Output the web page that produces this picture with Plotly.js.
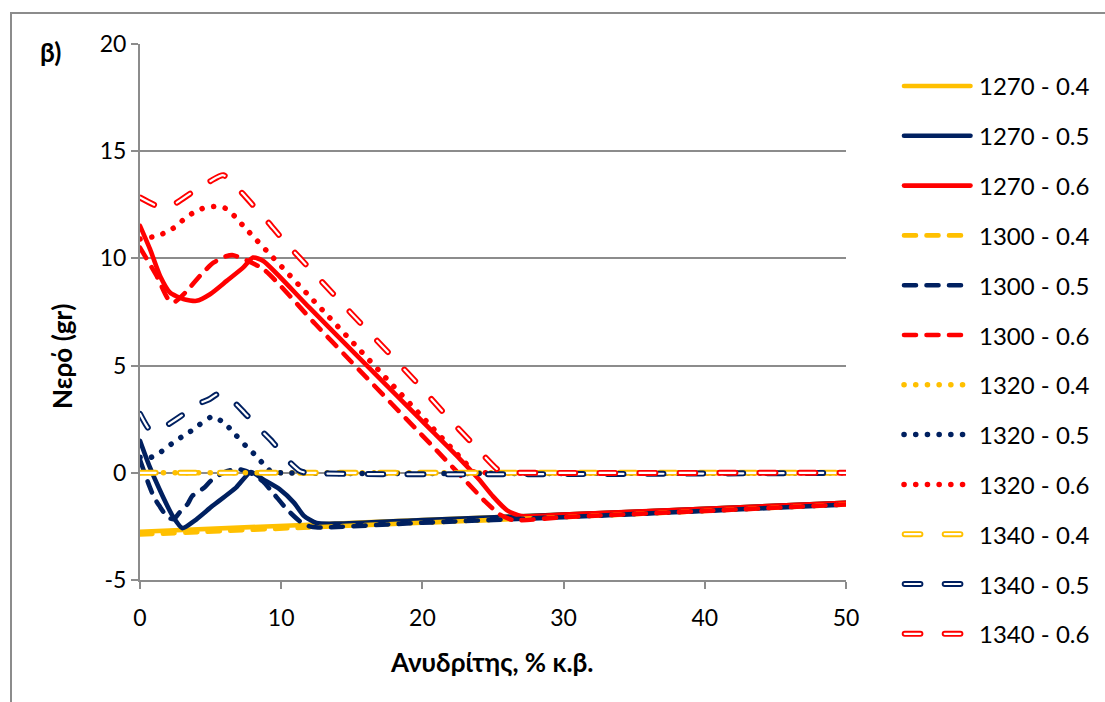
<!DOCTYPE html>
<html>
<head>
<meta charset="utf-8">
<script src="https://cdn.plot.ly/plotly-3.0.1.min.js"></script>
<style>
  html, body { margin: 0; padding: 0; background: #fff; }
  .js-line { stroke-linecap: round !important; stroke-linejoin: round !important; }
  .shapelayer path { stroke-linecap: round !important; }
</style>
</head>
<body>
<div id="chart" style="width:1105px;height:702px;"></div>
<script>
// ---------------- DATA ----------------
const seriesNames = ["1270 - 0.4", "1270 - 0.5", "1270 - 0.6",
                     "1300 - 0.4", "1300 - 0.5", "1300 - 0.6",
                     "1320 - 0.4", "1320 - 0.5", "1320 - 0.6",
                     "1340 - 0.4", "1340 - 0.5", "1340 - 0.6"];

const x1270_04 = [0, 12, 20, 30, 40, 50];
const y1270_04 = [-2.75, -2.42, -2.2, -1.95, -1.68, -1.4];

const x1270_05 = [0, 0.66, 1.6, 2.3, 3.0, 3.85, 5.14, 6.8, 7.86, 8.7, 9.9, 10.9, 11.6, 12.5, 14, 20, 30, 40, 50];
const y1270_05 = [1.49, 0.32, -1.08, -2.0, -2.58, -2.24, -1.54, -0.69, 0.04, -0.3, -0.77, -1.39, -2.0, -2.34, -2.37, -2.2, -1.95, -1.68, -1.4];

const x1270_06 = [0, 0.71, 1.42, 2.12, 3.07, 4.0, 4.96, 6.14, 7.32, 8.0, 8.73, 12, 16, 20, 22.66, 24, 25, 26, 27, 30, 40, 50];
const y1270_06 = [11.52, 10.43, 9.18, 8.41, 8.1, 8.02, 8.33, 8.95, 9.58, 10.04, 9.88, 7.7, 5.05, 2.4, 0.64, -0.3, -1.1, -1.75, -2.02, -1.95, -1.68, -1.4];

const x1300_04 = [0, 12.6, 20, 30, 40, 50];
const y1300_04 = [-2.88, -2.53, -2.33, -2.07, -1.78, -1.48];

const x1300_05 = [0, 0.66, 1.0, 1.37, 1.96, 2.4, 2.8, 3.37, 3.7, 4.56, 5.0, 5.7, 6.2, 7.0, 7.8, 8.7, 9.5, 10.4, 11.3, 12.0, 12.6, 20, 30, 40, 50];
const y1300_05 = [0.6, -0.61, -1.15, -1.54, -2.08, -2.16, -1.85, -1.46, -1.08, -0.69, -0.38, -0.07, 0.09, 0.17, 0.0, -0.4, -1.0, -1.7, -2.25, -2.5, -2.55, -2.33, -2.07, -1.78, -1.48];

const x1300_06 = [0, 1.18, 2.0, 2.4, 3.2, 4.4, 5.2, 6.1, 6.6, 8.73, 12.4, 14.64, 21.0, 24.1, 24.4, 25.5, 26.4, 30, 40, 50];
const y1300_06 = [10.5, 9.18, 8.1, 7.95, 8.4, 9.3, 9.8, 10.1, 10.15, 9.5, 6.95, 5.4, 1.05, -1.1, -1.31, -1.95, -2.2, -2.07, -1.78, -1.48];

const x1320_04 = [0, 50];
const y1320_04 = [0, 0];

const x1320_05 = [0, 0.78, 1.49, 2.2, 2.9, 3.57, 4.2, 4.96, 5.3, 5.74, 6.3, 6.8, 7.5, 8.1, 8.64, 9.3, 10, 50];
const y1320_05 = [0.72, 0.72, 0.98, 1.33, 1.65, 1.93, 2.24, 2.58, 2.62, 2.42, 2.11, 1.75, 1.25, 0.87, 0.48, 0.05, 0, 0];

const x1320_06 = [0, 0.87, 1.65, 2.36, 3.07, 3.7, 4.44, 5.3, 6.07, 6.73, 7.27, 12.98, 23.25, 23.7, 24.5, 50];
const y1320_06 = [10.9, 11.0, 11.16, 11.41, 11.8, 12.1, 12.33, 12.42, 12.33, 11.95, 11.55, 7.55, 0.32, 0.02, 0, 0];

const x1340_04 = [0, 50];
const y1340_04 = [0, 0];

const x1340_05 = [0, 0.66, 1.2, 1.84, 2.9, 4.08, 4.9, 5.6, 6.56, 7.38, 8.5, 9.4, 10.4, 11.3, 11.8, 50];
const y1340_05 = [2.75, 2.03, 1.95, 2.19, 2.65, 3.2, 3.43, 3.7, 3.35, 2.81, 2.03, 1.43, 0.63, 0.09, 0, 0];

const x1340_06 = [0, 1.18, 1.8, 2.6, 3.66, 4.96, 5.9, 7.2, 8.15, 9.1, 10.0, 14.9, 17.7, 19.7, 21.6, 23.6, 25.6, 26.3, 50];
const y1340_06 = [12.84, 12.45, 12.38, 12.6, 13.07, 13.6, 13.88, 13.07, 12.37, 11.67, 10.97, 7.48, 5.53, 4.13, 2.73, 1.33, 0.01, 0, 0];

const xTickVals = [0, 10, 20, 30, 40, 50];
const xTickText = ["0", "10", "20", "30", "40", "50"];
const yTickVals = [-5, 0, 5, 10, 15, 20];
const yTickText = ["-5", "0", "5", "10", "15", "20"];

// ---------------- STYLE ----------------
const YELLOW = "#FFC000", NAVY = "#002060", RED = "#FF0000";
const FONT = "Lato, 'Noto Sans', 'DejaVu Sans', sans-serif";
const GRID = "#8c8c8c";

const styles = {
  solid:  { width: 4.6, dash: "solid" },
  dashed: { width: 4.6, dash: "12px,10.5px" },
  dotted: { width: 5.5, dash: "0.1px,11.6px" },
  double: { width: 6,   dash: "15.7px,24.3px", inner: 2.2 }
};

const seriesData = [
  [x1270_04, y1270_04, YELLOW, "solid"],
  [x1270_05, y1270_05, NAVY, "solid"],
  [x1270_06, y1270_06, RED, "solid"],
  [x1300_04, y1300_04, YELLOW, "dashed"],
  [x1300_05, y1300_05, NAVY, "dashed"],
  [x1300_06, y1300_06, RED, "dashed"],
  [x1320_04, y1320_04, YELLOW, "dotted"],
  [x1320_05, y1320_05, NAVY, "dotted"],
  [x1320_06, y1320_06, RED, "dotted"],
  [x1340_04, y1340_04, YELLOW, "double"],
  [x1340_05, y1340_05, NAVY, "double"],
  [x1340_06, y1340_06, RED, "double"]
];

const traces = [];
seriesData.forEach((s, i) => {
  const st = styles[s[3]];
  traces.push({
    type: "scatter", mode: "lines", name: seriesNames[i],
    x: s[0], y: s[1],
    line: { color: s[2], width: st.width, dash: st.dash, shape: "spline", smoothing: 0.6 },
    hoverinfo: "skip", showlegend: false
  });
  if (s[3] === "double") {
    traces.push({
      type: "scatter", mode: "lines", name: seriesNames[i] + " inner",
      x: s[0], y: s[1],
      line: { color: "#ffffff", width: st.inner, dash: st.dash, shape: "spline", smoothing: 0.6 },
      hoverinfo: "skip", showlegend: false
    });
  }
});

// ---------------- LAYOUT ----------------
const W = 1105, H = 702;
const M = { l: 140, r: 259, t: 44, b: 122 };
const PW = W - M.l - M.r, PH = H - M.t - M.b;
const px = v => (v - M.l) / PW;
const py = v => (H - M.b - v) / PH;

const shapes = [];
const annotations = [];

// outer chart border
shapes.push({ type: "rect", xref: "paper", yref: "paper",
  x0: px(11), y0: py(13), x1: px(1112), y1: py(712),
  line: { color: GRID, width: 2 }, fillcolor: "rgba(0,0,0,0)", layer: "below" });

// legend
const legY0 = 86, legStep = 49.8;
seriesData.forEach((s, i) => {
  const yc = py(legY0 + legStep * i);
  const st = styles[s[3]];
  let x0 = 904, x1 = 970.5;
  if (s[3] === "dashed") { x1 = 961; }
  if (s[3] === "dotted") { x1 = 963; }
  if (s[3] === "double") { x0 = 904.7; x1 = 961; }
  shapes.push({ type: "line", xref: "paper", yref: "paper",
    x0: px(x0), x1: px(x1), y0: yc, y1: yc,
    line: { color: s[2], width: st.width, dash: st.dash } });
  if (s[3] === "double") {
    shapes.push({ type: "line", xref: "paper", yref: "paper",
      x0: px(x0), x1: px(x1), y0: yc, y1: yc,
      line: { color: "#ffffff", width: st.inner, dash: st.dash } });
  }
  annotations.push({ xref: "paper", yref: "paper", x: px(977), y: yc,
    xanchor: "left", yanchor: "middle", showarrow: false,
    text: seriesNames[i], font: { family: FONT, size: 24, color: "#000" } });
});

annotations.push({ xref: "paper", yref: "paper", x: px(50), y: py(52),
  xanchor: "center", yanchor: "middle", showarrow: false,
  text: "<b>β)</b>", font: { family: FONT, size: 26, color: "#000" } });
annotations.push({ xref: "paper", yref: "paper", x: px(62), y: py(357),
  xanchor: "center", yanchor: "middle", showarrow: false, textangle: -90,
  text: "<b>Νερό (gr)</b>", font: { family: FONT, size: 26, color: "#000" } });
annotations.push({ xref: "paper", yref: "paper", x: px(492), y: py(662),
  xanchor: "center", yanchor: "middle", showarrow: false,
  text: "<b>Ανυδρίτης, % κ.β.</b>", font: { family: FONT, size: 26, color: "#000" } });

const layout = {
  width: W, height: H, margin: M,
  paper_bgcolor: "#ffffff", plot_bgcolor: "#ffffff",
  showlegend: false,
  font: { family: FONT, size: 22, color: "#000" },
  xaxis: {
    range: [0, 50], tickvals: xTickVals, ticktext: xTickText, showgrid: false, zeroline: false,
    showline: true, linecolor: GRID, linewidth: 2,
    ticks: "outside", ticklen: 7, tickwidth: 2, tickcolor: GRID, ticklabelstandoff: 9,
    tickfont: { family: FONT, size: 23, color: "#000" }
  },
  yaxis: {
    range: [-5, 20], tickvals: yTickVals, ticktext: yTickText, showgrid: true, gridcolor: GRID, gridwidth: 2,
    zeroline: false, showline: true, linecolor: GRID, linewidth: 2,
    ticks: "outside", ticklen: 7, tickwidth: 2, tickcolor: GRID,
    tickfont: { family: FONT, size: 23, color: "#000" }
  },
  shapes: shapes,
  annotations: annotations
};

Plotly.newPlot("chart", traces, layout, { displayModeBar: false, staticPlot: true });
</script>
</body>
</html>
